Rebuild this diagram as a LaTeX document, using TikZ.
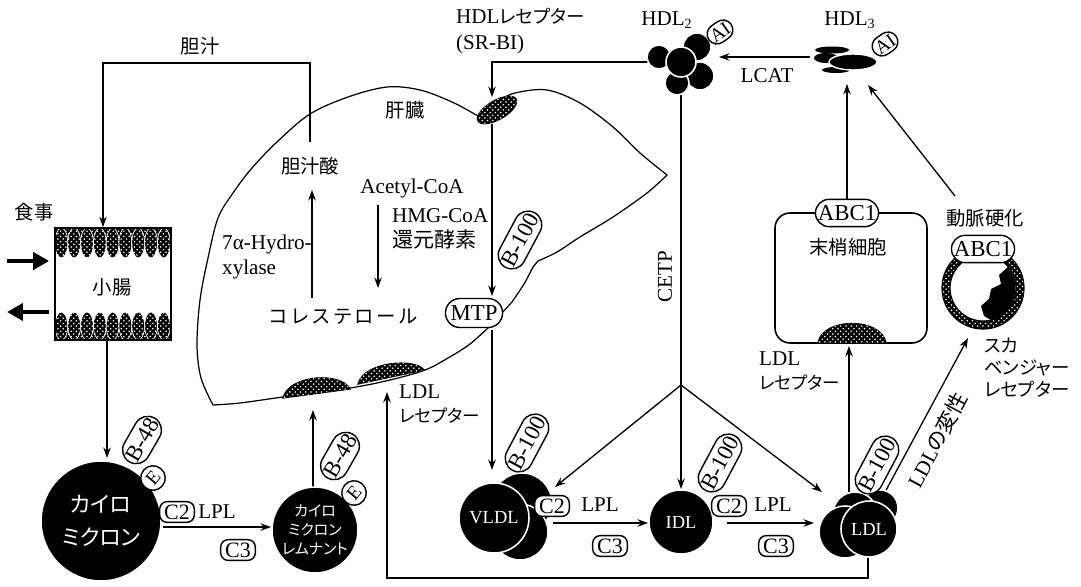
\documentclass[tikz,border=0pt]{standalone}
\usepackage{fontspec}
\setmainfont{Liberation Serif}
\newfontfamily\jp[RawFeature=+palt]{Noto Sans CJK JP}
\newfontfamily\jpwide[LetterSpace=12]{Noto Sans CJK JP}
\usetikzlibrary{arrows.meta,positioning,calc,shapes.misc,shapes.geometric,patterns}
\tikzset{
  flow/.style={-{Stealth[length=2.1mm,width=1.5mm]},line width=0.75pt},
  wire/.style={line width=0.75pt},
  intake/.style={-{Triangle[length=3.2mm,width=3.4mm]},line width=2.6pt},
  outline/.style={line width=0.7pt},
  hatch/.style={fill=black,postaction={pattern=crosshatch dots,pattern color=white}},
  pill/.style={draw,line width=0.8pt,fill=white,rounded rectangle,
               inner xsep=0mm,inner ysep=1.2mm,font=\fontsize{13}{14}\selectfont},
  apo/.style={draw,line width=0.8pt,fill=white,rounded corners=1.5mm,
              inner xsep=0.9mm,inner ysep=0.6mm,font=\fontsize{12.5}{13}\selectfont},
  esite/.style={circle,draw,line width=0.8pt,fill=white,inner sep=0pt,
                minimum size=4.9mm,font=\fontsize{11}{12}\selectfont},
  core/.style={circle,fill=black,draw=white,line width=0.9pt,inner sep=0pt,
               text=white,align=center},
  lobe/.style={fill=black,draw=white,line width=0.9pt},
  lab/.style={font=\fontsize{12}{14}\selectfont,align=center},
  jlab/.style={font=\jp\fontsize{11}{13}\selectfont,align=center},
  kana/.style={font=\jp\fontsize{10}{12}\selectfont},
}

\begin{document}
\begin{tikzpicture}[x=0.02cm,y=-0.02cm]
  \useasboundingbox (0,0) rectangle (1081,587);

  % --- small intestine with villi ---
  \fill[hatch] (55,228) rectangle (171,240);
  \fill[hatch] (55,328) rectangle (171,340);
  \foreach \i in {0,...,8}{
    \filldraw[hatch,draw=white,line width=0.4pt] (61.4+12.8*\i,243) ellipse[x radius=6.4,y radius=15];
    \filldraw[hatch,draw=white,line width=0.4pt] (61.4+12.8*\i,326) ellipse[x radius=6.4,y radius=14];
  }
  \node[draw,line width=1pt,minimum width=2.32cm,minimum height=2.24cm] (gut) at (113,284) {};
  \node[jlab] (gutname) at (112,287) {小腸};
  \node[jlab] (meal) at (34,212) {食事};
  \coordinate (mealin) at (7,261);
  \coordinate (mealout) at (7,312);
  \draw[intake] (mealin) -- ([xshift=-1mm]mealin -| gut.west);
  \draw[intake] ([xshift=-1mm]mealout -| gut.west) -- (mealout);

  % --- liver ---
  \draw[outline]
    plot[smooth,tension=0.55] coordinates {(213,405) (201,378) (197,345) (200,300) (208,258)
      (218,218) (233,193) (252,168) (278,141) (310,114) (348,97) (387,87) (420,90) (452,102) (478,116)}
    -- plot[smooth,tension=0.55] coordinates {(478,116) (497,102) (515,93) (547,90) (580,103)
      (613,127) (640,153) (667,175)}
    -- plot[smooth,tension=0.55] coordinates {(667,175) (647,193) (613,217) (580,237) (557,252) (538,261)}
    -- (533,267)
    -- plot[smooth,tension=0.55] coordinates {(533,267) (524,284) (512,302)}
    -- (490,326)
    -- plot[smooth,tension=0.55] coordinates {(490,326) (470,344) (448,358) (425,370) (390,380)
      (350,388) (283,397) (240,403) (213,405)}
    -- cycle;
  \draw[hatch,outline] (283,398) .. controls (289,374) and (342,372) .. (350,389) -- cycle;
  \draw[hatch,outline] (358,384) .. controls (364,361) and (416,358) .. (424,370) -- cycle;
  \node[ellipse,hatch,draw,outline,rotate=30,minimum width=0.88cm,minimum height=0.38cm,
        inner sep=0pt] (hdlrec) at (497,110) {};

  \node[jlab] (bile) at (200,46) {胆汁};
  \node[jlab] (liver) at (405,110) {肝臓};
  \node[jlab] (bileacid) at (310,166) {胆汁酸};
  \node[lab] (acoa) at (412,188) {Acetyl-CoA};
  \node[lab,anchor=west,align=left] (hmg) at (386,229) {HMG-CoA\\{\jp 還元酵素}};
  \node[lab,anchor=west,align=left] (hydrox) at (216,257) {7α-Hydro-\\xylase};
  \node[font=\jpwide\fontsize{11}{13}\selectfont] (chol) at (343,317) {コレステロール};
  \node[lab,anchor=west,align=left] (ldlrliver) at (393,404) {LDL\\{\jp\fontsize{10}{12}\selectfont レセプター}};

  % bile loop and the two pathways inside the liver
  \coordinate (bilestart) at (310,142);
  \coordinate (bileturn) at (103,63);
  \draw[flow] (bilestart) |- (bileturn) -- (bileturn |- gut.north);
  \coordinate (hydfrom) at (312,298);
  \coordinate (hydto) at (312,190);
  \draw[flow] (hydfrom) -- (hydto);
  \coordinate (hmgfrom) at (378,205);
  \coordinate (hmgto) at (378,288);
  \draw[flow] (hmgfrom) -- (hmgto);

  % --- connectors between particles ---
  \node[lab,anchor=west,align=left,font=\fontsize{12}{15}\selectfont] (hdlrlab) at (450,31)
    {HDL{\jp\fontsize{10.5}{12}\selectfont レセプター}\\(SR-BI)};
  \coordinate (hdlrin) at (492,97);
  \coordinate (hdlrout) at (492,124);
  \coordinate (hdltwo) at (681,62);
  \coordinate (hdlthree) at (847,84);
  \coordinate (vldlin) at (492,470);
  \coordinate (split) at (681,385);
  \coordinate (vldltip) at (555,487);
  \coordinate (ldltip) at (822,492);
  \coordinate (chyloin) at (107,458);
  \coordinate (remout) at (313,487);
  \coordinate (remin) at (313,410);
  \coordinate (ldlbase) at (868,558);
  \coordinate (ldlrin) at (387,392);
  \coordinate (ldlup) at (849,493);
  \coordinate (denfrom) at (884,494);
  \coordinate (dento) at (968,338);
  \coordinate (vesselout) at (955,196);
  \coordinate (hdlthreeside) at (868,85);
  \coordinate (lcatfrom) at (810,57);
  \coordinate (lcatto) at (719,57);

  \draw[flow] (hdltwo) -| (hdlrin);
  \draw[flow] (hdlrout) -- (hdlrout |- 0,296);
  \draw[flow] (hdlrout |- 0,330) -- (vldlin);
  \draw[wire] (hdltwo) -- (split);
  \draw[flow] (split) -- (681,489);
  \draw[flow] (split) -- (vldltip);
  \draw[flow] (split) -- (ldltip);
  \draw[flow] (chyloin |- gut.south) -- (chyloin);
  \draw[flow] (remout) -- (remin);
  \draw[flow] (ldlbase) -- (868,578) -| (ldlrin);
  \draw[flow] (ldlup) -- (ldlup |- 0,346);
  \draw[flow] (denfrom) -- (dento);
  \draw[flow] (hdlthree |- 0,200) -- (hdlthree);
  \draw[flow] (vesselout) -- (hdlthreeside);
  \draw[flow] (lcatfrom) -- (lcatto);
  \draw[flow] (163,527) -- (271,527);
  \draw[flow] (553,523) -- (648,523);
  \draw[flow] (727,523) -- (814,523);

  \node[pill,font=\fontsize{13}{14}\selectfont,inner xsep=0.6mm,inner ysep=1.4mm] (mtp) at (474,313) {MTP};
  \node[pill,rotate=62] (bliver) at (520,240) {B-100};

  % --- HDL2 and HDL3 ---
  \fill[lobe] (659,57) circle[radius=12];
  \fill[lobe] (697,47) circle[radius=14];
  \fill[lobe] (700,76) circle[radius=14];
  \fill[lobe] (677,83) circle[radius=12];
  \node[core,minimum size=0.6cm] (hdltwocore) at (hdltwo) {};
  \node[pill,rotate=35,inner xsep=0.2mm,inner ysep=0.7mm,font=\fontsize{11}{12}\selectfont] (aitwo) at (720,32) {AI};
  \node[lab] (hdltwolab) at (667,20) {HDL\textsubscript{2}};
  \node[lab] (lcat) at (767,76) {LCAT};

  \fill (832,50) ellipse[x radius=17,y radius=3.5];
  \fill (826,58) ellipse[x radius=12,y radius=5];
  \fill (836,70) ellipse[x radius=14,y radius=3];
  \filldraw[fill=black,draw=white,line width=0.8pt] (853,62) ellipse[x radius=24,y radius=8];
  \node[pill,rotate=35,inner xsep=0.2mm,inner ysep=0.7mm,font=\fontsize{11}{12}\selectfont] (aithree) at (885,44) {AI};
  \node[lab] (hdlthreelab) at (850,20) {HDL\textsubscript{3}};

  % --- peripheral cell ---
  \node[draw,line width=0.9pt,rounded corners=3mm,minimum width=3.04cm,minimum height=2.6cm] (cell) at (851,278) {};
  \draw[hatch,outline] (818,343) .. controls (822,317) and (882,317) .. (886,343) -- cycle;
  \node[pill] (abccell) at (847,213) {ABC1};
  \node[jlab] (cellname) at (848,247) {末梢細胞};
  \node[lab,anchor=west,align=left] (ldlrcell) at (753,371) {LDL\\{\jp\fontsize{10}{12}\selectfont レセプター}};

  % --- atherosclerotic vessel ---
  \fill[hatch] (983,288) circle[radius=41];
  \draw[outline] (983,288) circle[radius=41];
  \filldraw[fill=white,outline] (983,288) circle[radius=33];
  \fill (1008,267) -- (999,275) -- (1001,284) -- (991,289) -- (989,299) -- (981,306) -- (984,316)
    -- (991,320) arc[start angle=75,end angle=-40,radius=33] -- cycle;
  \node[jlab] (athero) at (985,218) {動脈硬化};
  \node[pill] (abcvessel) at (983,249) {ABC1};
  \node[kana,anchor=north west,align=left,font=\jp\fontsize{10.5}{12.5}\selectfont] (scav) at (978,332) {スカ\\ベンジャー\\レセプター};

  % --- chylomicron and its remnant ---
  \node[core,minimum size=2.4cm,font=\jp\fontsize{12.5}{19}\selectfont] (chylo) at (101,521) {カイロ\\ミクロン};
  \node[pill,rotate=60] (bchylo) at (142,440) {B-48};
  \node[esite,rotate=50] (echylo) at (153,478) {E};
  \node[apo] (ctwochylo) at (177,512) {C2};
  \node[lab] (lplchylo) at (217,512) {LPL};
  \node[apo] (cthreechylo) at (238,550) {C3};

  \node[core,minimum size=1.72cm,font=\jp\fontsize{8.5}{11}\selectfont] (remnant) at (315,530) {カイロ\\ミクロン\\レムナント};
  \node[pill,rotate=60] (bremnant) at (340,456) {B-48};
  \node[esite,rotate=50] (eremnant) at (354,493) {E};

  % --- VLDL, IDL, LDL ---
  \fill[lobe] (522,503) circle[radius=30];
  \fill[lobe] (520,532) circle[radius=28];
  \node[core,minimum size=1.4cm,font=\fontsize{10.5}{11}\selectfont] (vldl) at (494,518) {VLDL};
  \node[pill,rotate=62] (bvldl) at (527,443) {B-100};
  \node[apo] (ctwovldl) at (552,506) {C2};
  \node[lab] (lplvldl) at (600,505) {LPL};
  \node[apo] (cthreevldl) at (610,546) {C3};

  \node[core,minimum size=1.28cm,font=\fontsize{10.5}{11}\selectfont] (idl) at (681,522) {IDL};
  \node[pill,rotate=62] (bidl) at (720,463) {B-100};
  \node[apo] (ctwoidl) at (729,506) {C2};
  \node[lab] (lplidl) at (773,505) {LPL};
  \node[apo] (cthreeidl) at (776,546) {C3};

  \fill[lobe] (880,508) circle[radius=18];
  \fill[lobe] (855,514) circle[radius=22];
  \fill[lobe] (845,532) circle[radius=26];
  \node[core,minimum size=1.12cm,font=\fontsize{10.5}{11}\selectfont] (ldl) at (869,529) {LDL};
  \node[pill,rotate=62] (bldl) at (877,465) {B-100};
  \node[lab,rotate=62] (denat) at (937,440) {LDL{\jp の変性}};
  \node[lab,rotate=90] (cetp) at (665,277) {CETP};
\end{tikzpicture}
\end{document}
